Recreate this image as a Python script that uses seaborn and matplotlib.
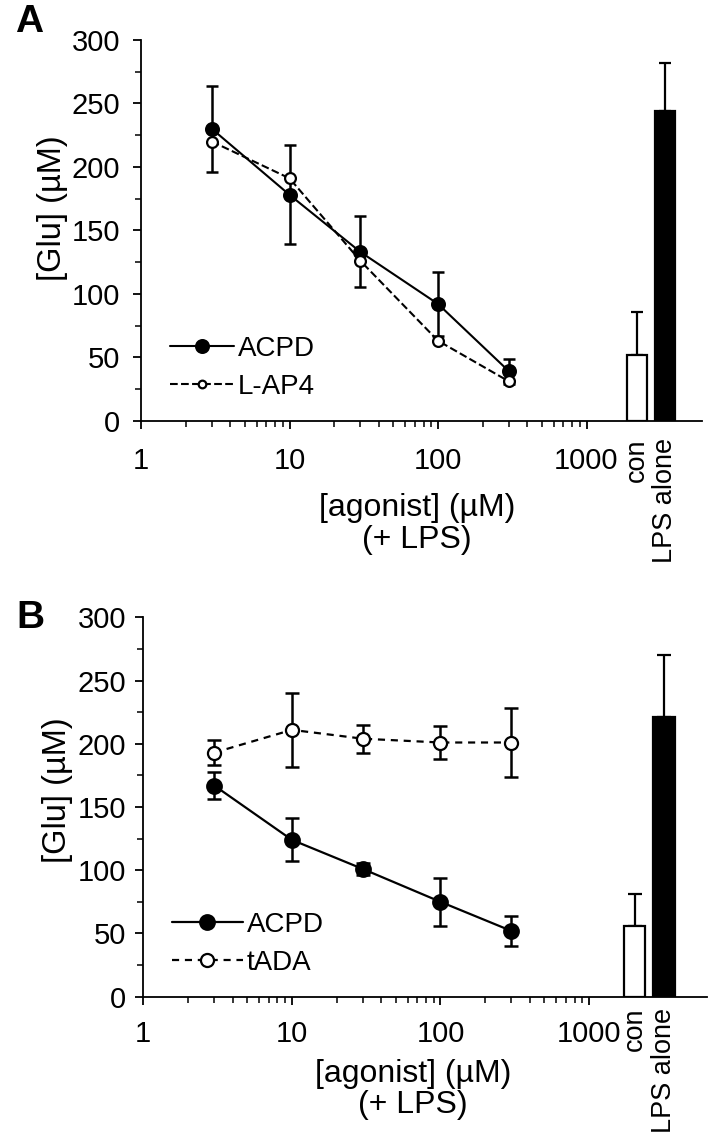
import numpy as np
import pandas as pd
import matplotlib
matplotlib.use("Agg")
import matplotlib.pyplot as plt
import seaborn as sns

sns.set_theme(style="ticks")
plt.rcParams['font.family'] = ['Liberation Sans', 'DejaVu Sans']

# ---------------- data ----------------
conc = [3, 10, 30, 100, 300]

# Panel A
acpd_a = [230, 178, 133, 92, 39]
acpd_a_err = [34, 39, 28, 25, 10]
lap4_a = [220, 191, 126, 63, 31]
bar_cats = ["con", "LPS alone"]
bars_a = [52, 244]
bars_a_err = [34, 38]

# Panel B
acpd_b = [167, 124, 101, 75, 52]
acpd_b_err = [11, 17, 5, 19, 12]
tada_b = [193, 211, 204, 201, 201]
tada_b_err = [10, 29, 11, 13, 27]
bars_b = [56, 221]
bars_b_err = [25, 49]

xtick_vals = [1, 10, 100, 1000]
xtick_labels = ["1", "10", "100", "1000"]
ytick_vals = [0, 50, 100, 150, 200, 250, 300]
xlabel_text = "[agonist] (\u00b5M)\n(+ LPS)"
ylabel_text = "[Glu] (\u00b5M)"

W, H = 708, 1138
fig = plt.figure(figsize=(W / 100, H / 100), dpi=100)

TICK_FS = 21
LEG_FS = 20


def px_rect(left, top, right, bottom):
    return [left / W, 1 - bottom / H, (right - left) / W, (bottom - top) / H]


def panel(ax_px, bar_px, series, bars, bar_errs, legend_anchor, handlelen,
          ylab_coords, xlab_coords, xpad, ypad, barpad, lw, ms_fill, ms_open,
          capsize, small_leg_open):
    ax = fig.add_axes(px_rect(*ax_px))
    ax.set_xscale("log")
    left, top, right, bottom = ax_px
    decade = bar_px[2]
    xmax = 10 ** ((right - left) / decade)
    ax.set_xlim(1, xmax)
    ax.set_ylim(0, 300)

    for s in series:
        y, err, label, filled, ls = s
        if err is not None:
            ax.errorbar(conc, y, yerr=err, fmt="none", ecolor="black",
                        elinewidth=1.8, capsize=capsize, capthick=1.8, zorder=2)
        sns.lineplot(x=conc, y=y, ax=ax, color="black", linewidth=lw,
                     linestyle=ls, marker="o",
                     markersize=ms_fill if filled else ms_open,
                     markerfacecolor="black" if filled else "white",
                     markeredgecolor="black", markeredgewidth=1.6,
                     label=label, zorder=3 if filled else 4)

    sns.despine(ax=ax)
    for sp in ["left", "bottom"]:
        ax.spines[sp].set_linewidth(1.3)
        ax.spines[sp].set_color("black")

    ax.set_xticks(xtick_vals, labels=xtick_labels)
    minors = [m * d for d in (1, 10, 100) for m in range(2, 10)]
    ax.set_xticks(minors, minor=True)
    ax.set_xticklabels([], minor=True)
    ax.set_yticks(ytick_vals, labels=[str(v) for v in ytick_vals])
    ax.set_yticks([25, 75, 125, 175, 225, 275], minor=True)
    ax.tick_params(axis="both", which="major", length=6, width=1.3,
                   color="black", labelsize=TICK_FS, labelcolor="black")
    ax.tick_params(axis="both", which="minor", length=4, width=1.1, color="black")
    ax.tick_params(axis="x", which="major", pad=xpad)
    ax.tick_params(axis="y", which="major", pad=ypad)

    ax.set_ylabel(ylabel_text, fontsize=23.5, color="black")
    ax.yaxis.set_label_coords(*ylab_coords)
    ax.set_xlabel(xlabel_text, fontsize=23, color="black", linespacing=1.08)
    ax.xaxis.set_label_coords(*xlab_coords)

    leg = ax.legend(loc="lower left", bbox_to_anchor=legend_anchor,
                    frameon=False, fontsize=LEG_FS, handlelength=handlelen,
                    handletextpad=0.15, labelspacing=0.42, borderpad=0,
                    borderaxespad=0)
    if small_leg_open:
        leg.legend_handles[1].set_markersize(5.5)
    for t in leg.get_texts():
        t.set_color("black")

    # bars on an overlaid categorical axes
    bleft, bright, _ = bar_px
    bax = fig.add_axes(px_rect(bleft, top, bright, bottom))
    bax.patch.set_alpha(0)
    sns.barplot(x=bar_cats, y=bars, hue=bar_cats, palette=["white", "black"],
                legend=False, ax=bax, edgecolor="black", linewidth=1.6,
                width=0.73, errorbar=None, zorder=3)
    bax.errorbar([0, 1], bars, yerr=[[0, 0], bar_errs], fmt="none",
                 ecolor="black", elinewidth=1.6, capsize=capsize * 1.05,
                 capthick=1.6, zorder=2)
    bax.set_xlim(-1, 2)
    bax.set_ylim(0, 300)
    for sp in bax.spines.values():
        sp.set_visible(False)
    bax.set_yticks([])
    bax.set_ylabel("")
    bax.set_xlabel("")
    bax.tick_params(axis="x", length=0, pad=barpad, labelsize=19.5,
                    labelrotation=90, labelcolor="black")
    return ax


# Panel A
panel(ax_px=(141, 40, 702, 420.7), bar_px=(609, 693, 148.5),
      series=[(acpd_a, acpd_a_err, "ACPD", True, "-"),
              (lap4_a, None, "L-AP4", False, "--")],
      bars=bars_a, bar_errs=bars_a_err, legend_anchor=(0.052, 0.055),
      handlelen=2.3,
      ylab_coords=(-0.13, 0.557), xlab_coords=(0.492, -0.19),
      xpad=13, ypad=9, barpad=12.5, lw=1.5, ms_fill=9.2, ms_open=7.8,
      capsize=4, small_leg_open=True)

# Panel B
panel(ax_px=(143.3, 617.3, 706.7, 996.7), bar_px=(605, 693.5, 148.6),
      series=[(acpd_b, acpd_b_err, "ACPD", True, "-"),
              (tada_b, tada_b_err, "tADA", False, (0, (3.2, 2.6)))],
      bars=bars_b, bar_errs=bars_b_err, legend_anchor=(0.051, 0.055),
      handlelen=2.55,
      ylab_coords=(-0.124, 0.545), xlab_coords=(0.479, -0.163),
      xpad=10.5, ypad=6.5, barpad=8, lw=1.6, ms_fill=10.5, ms_open=9.4,
      capsize=4.7, small_leg_open=False)

fig.text(29 / W, 1 - 21.5 / H, "A", fontsize=28, fontweight="bold",
         ha="center", va="center", color="black")
fig.text(30 / W, 1 - 618 / H, "B", fontsize=28, fontweight="bold",
         ha="center", va="center", color="black")

fig.savefig("out.png", dpi=100, facecolor="white")
